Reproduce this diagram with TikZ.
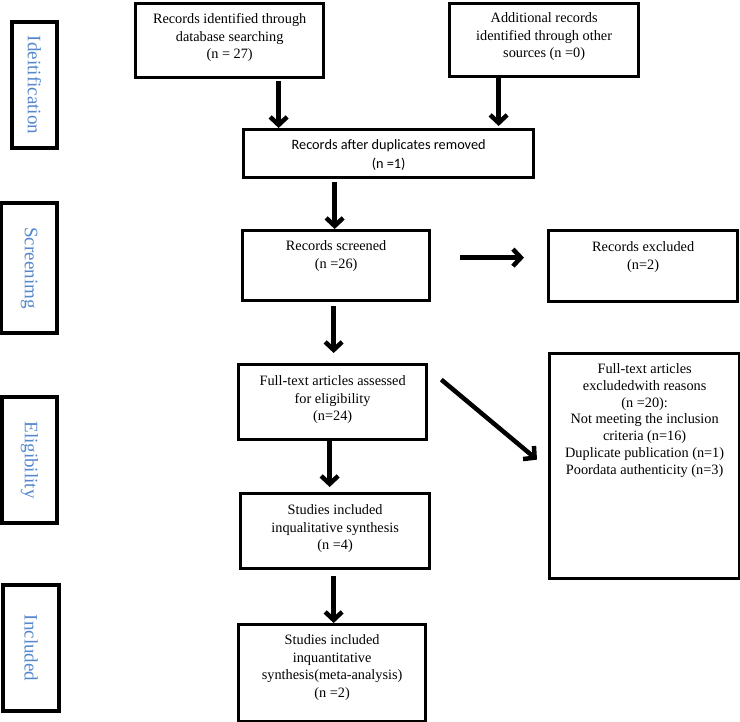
\documentclass[tikz,border=0pt]{standalone}
\usepackage{fontspec}
\setmainfont{Liberation Serif}
\newfontfamily\calfont{Carlito}
\usetikzlibrary{arrows.meta}
\definecolor{sideblue}{RGB}{84,135,204}
\newcommand{\bxt}[4]{\parbox[c][#2][t]{#1}{\centering\vspace*{#3}#4\par}}
\begin{document}
\begin{tikzpicture}[x=1pt,y=-1pt,
  box/.style={draw, line width=3.3pt, inner sep=0pt, anchor=north west, font=\fontsize{14.3}{17.5}\selectfont},
  side/.style={draw, line width=3.3pt, inner sep=0pt, rotate=-90, text=sideblue, font=\fontsize{19}{22}\selectfont},
  arr/.style={line width=4.5pt, -{Straight Barb[length=8pt,width=17pt]}}]
\useasboundingbox (0,0) rectangle (740,722);

% side labels
\node[side, minimum width=126pt, minimum height=45pt] (s1) at (34.5,85) {Ideitification};
\node[side, minimum width=130pt, minimum height=56pt] (s2) at (29,268) {Screenimg};
\node[side, minimum width=126pt, minimum height=55pt] (s3) at (29.5,460) {Eligibility};
\node[side, minimum width=126pt, minimum height=56pt] (s4) at (31,648) {Included};

% main boxes
\node[box] (A) at (134,2) {\bxt{188pt}{74pt}{10pt}{Records identified through\\database searching\\(n = 27)}};
\node[box] (B) at (448,2) {\bxt{189pt}{73pt}{9pt}{Additional records\\identified through other\\sources (n =0)}};
\node[box, font=\calfont\fontsize{14.3}{19}\selectfont] (C) at (242,128) {\bxt{290pt}{48pt}{10pt}{Records after duplicates removed\\(n =1)}};
\node[box] (D) at (241,229) {\bxt{187pt}{70pt}{10pt}{Records screened\\(n =26)}};
\node[box] (E) at (547,229) {\bxt{189pt}{71pt}{11pt}{Records excluded\\(n=2)}};
\node[box] (F) at (237,363) {\bxt{188pt}{75pt}{11pt}{Full-text articles assessed\\for eligibility\\(n=24)}};
\node[box, font=\fontsize{14.3}{16.8}\selectfont] (G) at (548,352) {\bxt{190pt}{225pt}{10pt}{Full-text articles\\excludedwith reasons\\(n =20):\\Not meeting the inclusion\\criteria (n=16)\\Duplicate publication (n=1)\\Poordata authenticity (n=3)}};
\node[box] (H) at (239,492) {\bxt{189pt}{75pt}{11pt}{Studies included\\inqualitative synthesis\\(n =4)}};
\node[box] (I) at (237,623) {\bxt{187pt}{97pt}{10pt}{Studies included\\inquantitative\\synthesis(meta-analysis)\\(n =2)}};

% connectors
\draw[arr, shorten <=2pt] ([xshift=49pt]A.south) -- ([xshift=49pt]A.south |- C.north);
\draw[arr, shorten >=2pt] ([xshift=-45.5pt]B.south) -- ([xshift=-45.5pt]B.south |- C.north);
\draw[arr, shorten <=3pt] ([xshift=-54pt]C.south) -- ([xshift=-54pt]C.south |- D.north);
\draw[arr, shorten <=29pt, shorten >=23pt] ([yshift=8pt]D.east) -- ([yshift=8pt]D.east -| E.west);
\draw[arr, shorten <=4pt, shorten >=10pt] ([xshift=-2.5pt]D.south) -- ([xshift=-2.5pt]D.south |- F.north);
\draw[arr] ([xshift=13pt,yshift=22.5pt]F.east) -- ([xshift=-11pt,yshift=6.5pt]G.west);
\draw[arr, shorten >=5pt] ([xshift=-3pt]F.south) -- ([xshift=-3pt]F.south |- H.north);
\draw[arr, shorten <=6pt] ([xshift=-1.5pt]H.south) -- ([xshift=-1.5pt]H.south |- I.north);
\end{tikzpicture}
\end{document}
